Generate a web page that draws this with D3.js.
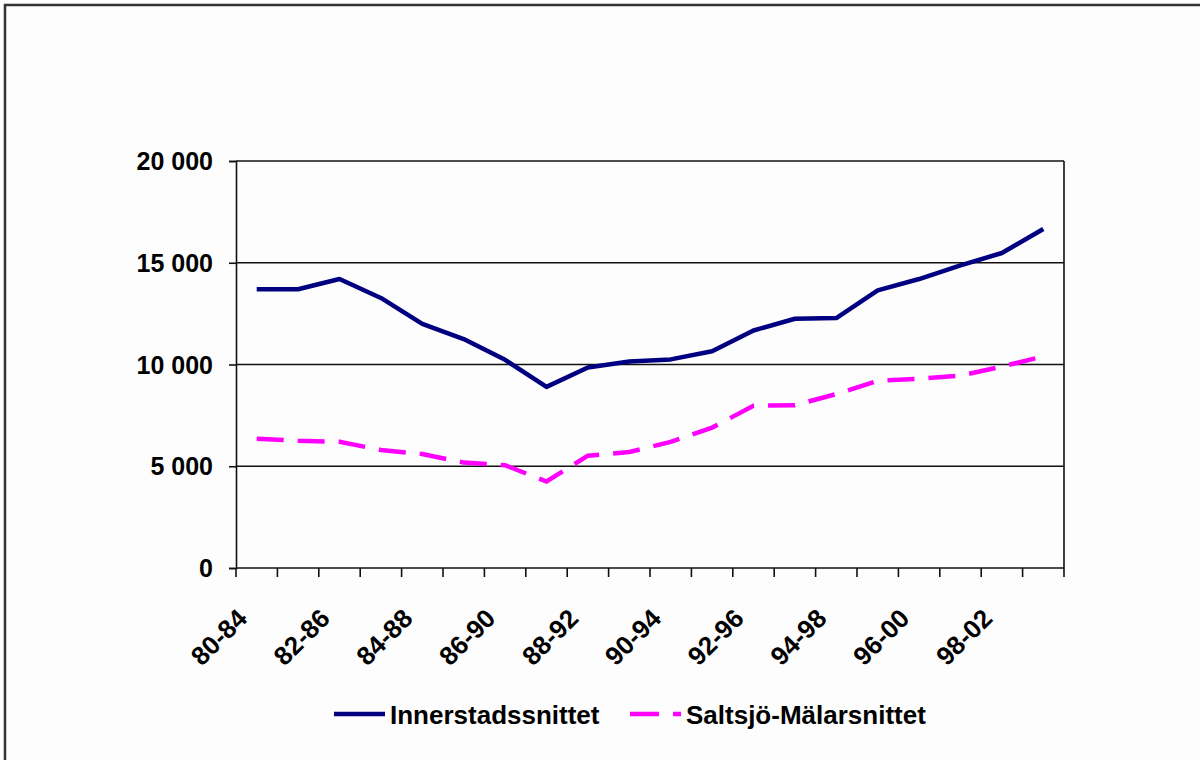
<!DOCTYPE html>
<html>
<head>
<meta charset="utf-8">
<script src="https://cdn.jsdelivr.net/npm/d3@7"></script>
<style>
  html, body { margin: 0; padding: 0; background: #fdfdfd; }
  svg { display: block; }
  text { font-family: Arial, "Liberation Sans", sans-serif; font-weight: bold; fill: #000; }
</style>
</head>
<body>
<svg id="chart" width="1200" height="760"></svg>
<script>
// Five-year periods
const periods = ["80-84","81-85","82-86","83-87","84-88","85-89","86-90","87-91","88-92","89-93",
                 "90-94","91-95","92-96","93-97","94-98","95-99","96-00","97-01","98-02","99-03"];
// Series values
const innerstad = [13700,13700,14200,13270,12000,11250,10230,8900,9850,10150,
                   10250,10650,11670,12250,12280,13640,14200,14870,15480,16660];
const saltsjo   = [6350,6250,6200,5800,5600,5180,5050,4250,5520,5700,
                   6200,6900,7970,8000,8550,9200,9300,9450,9900,10400];
const seriesNames = ["Innerstadssnittet","Saltsjö-Mälarsnittet"];
const yTicks = [0,5000,10000,15000,20000];

const svg = d3.select("#chart");

// outer frame
svg.append("rect").attr("x",5).attr("y",5).attr("width",1210).attr("height",770)
  .attr("fill","none").attr("stroke","#333").attr("stroke-width",2.5);

const plot = {left:236, right:1064, top:161, bottom:568};

const x = d3.scaleBand().domain(periods).range([plot.left, plot.right]).padding(0);
const y = d3.scaleLinear().domain([0,20000]).range([plot.bottom, plot.top]);

const fmt = v => d3.format(",")(v).replace(/,/g," ");

// gridlines
svg.append("g").selectAll("line").data(yTicks.filter(d=>d>0)).join("line")
  .attr("x1",plot.left).attr("x2",plot.right)
  .attr("y1",d=>y(d)).attr("y2",d=>y(d))
  .attr("stroke","#111").attr("stroke-width",1.6);

// right border of plot
svg.append("line").attr("x1",plot.right).attr("x2",plot.right)
  .attr("y1",plot.top).attr("y2",plot.bottom)
  .attr("stroke","#111").attr("stroke-width",1.6);

// y axis
const yAxis = d3.axisLeft(y).tickValues(yTicks).tickSize(7).tickPadding(16).tickFormat(fmt);
const gy = svg.append("g").attr("transform",`translate(${plot.left},0)`).call(yAxis);
gy.select(".domain").attr("stroke","#111").attr("stroke-width",1.6);
gy.selectAll(".tick line").attr("stroke","#111").attr("stroke-width",1.6);
gy.selectAll(".tick text").style("font-size","25px").attr("dy","0.34em");

// x axis: ticks at band boundaries
const gx = svg.append("g");
gx.append("line").attr("x1",plot.left).attr("x2",plot.right)
  .attr("y1",plot.bottom).attr("y2",plot.bottom)
  .attr("stroke","#111").attr("stroke-width",1.6);
const edges = periods.map(p => x(p)).concat([plot.right]);
gx.selectAll("line.tk").data(edges).join("line").attr("class","tk")
  .attr("x1",d=>d).attr("x2",d=>d)
  .attr("y1",plot.bottom).attr("y2",plot.bottom+9)
  .attr("stroke","#111").attr("stroke-width",1.6);

// rotated category labels, every other period
gx.selectAll("text").data(periods.filter((d,i)=>i%2===0)).join("text")
  .attr("transform",d=>`translate(${x(d)+x.bandwidth()/2-8},620) rotate(-45)`)
  .attr("text-anchor","end")
  .style("font-size","26px")
  .text(d=>d);

// lines
const line = d3.line().x((d,i)=>x(periods[i])+x.bandwidth()/2).y(d=>y(d));

svg.append("path").datum(innerstad).attr("d",line)
  .attr("fill","none").attr("stroke","#000080").attr("stroke-width",4.5)
  .attr("stroke-linejoin","round");

svg.append("path").datum(saltsjo).attr("d",line)
  .attr("fill","none").attr("stroke","#ff00ff").attr("stroke-width",4.5)
  .attr("stroke-dasharray","27,14");

// legend
const lg = svg.append("g");
lg.append("line").attr("x1",334).attr("x2",385).attr("y1",714).attr("y2",714)
  .attr("stroke","#000080").attr("stroke-width",4.5);
lg.append("text").attr("x",390).attr("y",724).style("font-size","26px").text(seriesNames[0]);
lg.append("line").attr("x1",630).attr("x2",681).attr("y1",714).attr("y2",714)
  .attr("stroke","#ff00ff").attr("stroke-width",4.5).attr("stroke-dasharray","29,14");
lg.append("text").attr("x",686).attr("y",724).style("font-size","26px").text(seriesNames[1]);
</script>
</body>
</html>
